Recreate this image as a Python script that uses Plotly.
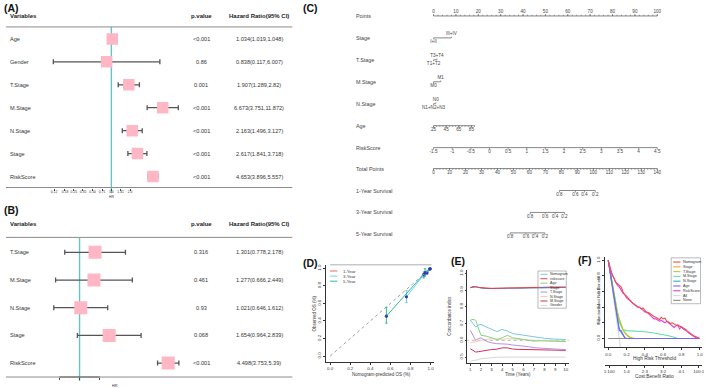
import math
import plotly.graph_objects as go

W, H = 709, 388
FONT = "Liberation Sans, Arial, sans-serif"
TXT = "#333333"
PINK = "#FFB7C5"
TEAL = "#67C3C9"
BARC = "#555555"

# ================= DATA =================
# Panel A : univariate Cox regression
a_vars = ["Age", "Gender", "T.Stage", "M.Stage", "N.Stage", "Stage", "RiskScore"]
a_pval = ["<0.001", "0.86", "0.001", "<0.001", "<0.001", "<0.001", "<0.001"]
a_hr = [1.034, 0.838, 1.907, 6.673, 2.163, 2.617, 4.653]
a_lo = [1.019, 0.117, 1.289, 3.751, 1.496, 1.841, 3.896]
a_hi = [1.048, 6.007, 2.82, 11.872, 3.127, 3.718, 5.557]
a_ticks = [0.12, 0.18, 0.25, 0.35, 0.50, 0.71, 1.0, 1.41, 2.0]
a_ticklabels = ["0.12", "0.18", "0.25", "0.35", "0.50", "0.71", "1.0", "1.41", "2.0"]

# Panel B : multivariate Cox regression
b_vars = ["T.Stage", "M.Stage", "N.Stage", "Stage", "RiskScore"]
b_pval = ["0.316", "0.461", "0.93", "0.068", "<0.001"]
b_hr = [1.301, 1.277, 1.021, 1.654, 4.498]
b_lo = [0.778, 0.666, 0.646, 0.964, 3.753]
b_hi = [2.178, 2.449, 1.612, 2.839, 5.39]
b_ticks = [0.71, 1.0, 1.41]
b_ticklabels = ["0.71", "1.0", "1.41"]

# Panel C : nomogram
c_row_names = ["Points", "Stage", "T.Stage", "M.Stage", "N.Stage", "Age", "RiskScore",
               "Total Points", "1-Year Survival", "3-Year Survival", "5-Year Survival"]
points_major = [0, 10, 20, 30, 40, 50, 60, 70, 80, 90, 100]
points_minor = list(range(0, 101, 2))
stage_levels, stage_pts = ["I+II", "III+IV"], [0, 8.0]
tstage_levels, tstage_pts = ["T1+T2", "T3+T4"], [0, 1.5]
mstage_levels, mstage_pts = ["M0", "M1"], [0, 3.2]
nstage_levels, nstage_pts = ["N1+N2+N3", "N0"], [0, 1.0]
age_major = [25, 45, 65, 85]
age_minor = [25, 30, 35, 40, 45, 50, 55, 60, 65, 70, 75, 80, 85, 90]
age_pts_per_year = 0.282
risk_ticks = [-1.5, -1, -0.5, 0, 0.5, 1, 1.5, 2, 2.5, 3, 3.5, 4, 4.5]
risk_labels = ["-1.5", "-1", "-0.5", "0", "0.5", "1", "1.5", "2", "2.5", "3", "3.5", "4", "4.5"]
total_major = [0, 10, 20, 30, 40, 50, 60, 70, 80, 90, 100, 110, 120, 130, 140]
total_minor = list(range(0, 141, 2))
total_max = 140
surv_labels = ["0.8", "0.6", "0.4", "0.2"]
surv1_total = [78.8, 88.8, 94.4, 101.2]
surv3_total = [60.5, 69.9, 76.1, 81.9]
surv5_total = [47.9, 57.9, 63.5, 69.7]

# Panel D : calibration
d_names = ["1-Year", "3-Year", "5-Year"]
d_colors = ["#F46A5E", "#72CFF2", "#2DBB9C"]
d_pred = [[0.93, 0.965, 0.995], [0.76, 0.935, 0.99], [0.56, 0.945, 0.995]]
d_obs = [[0.915, 0.95, 0.995], [0.675, 0.93, 0.99], [0.455, 0.95, 0.995]]
d_low = [[0.89, 0.93, 0.985], [0.61, 0.90, 0.975], [0.375, 0.91, 0.985]]
d_high = [[0.94, 0.97, 1.0], [0.745, 0.96, 1.0], [0.555, 0.995, 1.0]]
d_ideal = [0, 1]
d_ticks = [0, 0.2, 0.4, 0.6, 0.8, 1.0]

# Panel E : time-dependent C-index
e_years = [1, 1.25, 1.5, 1.75, 2, 2.5, 3, 3.5, 4, 4.5, 5, 5.5, 6, 6.5, 7, 7.5, 8, 9, 10]
e_names = ["Nomogram", "riskscore", "Age", "Stage", "T.Stage", "N.Stage", "M.Stage", "Gender"]
e_colors = ["#7CC6E6", "#E8403C", "#7FD77F", "#4A7FD6", "#B890DC", "#F7CBAE", "#D42E5B", "#D6D6D6"]
e_values = {
    "Nomogram": [0.72, 0.70, 0.68, 0.69, 0.695, 0.68, 0.665, 0.652, 0.665, 0.655, 0.64, 0.635, 0.632, 0.628, 0.62, 0.615, 0.612, 0.607, 0.605],
    "riskscore": [0.915, 0.917, 0.918, 0.916, 0.914, 0.912, 0.91, 0.911, 0.912, 0.913, 0.912, 0.912, 0.912, 0.913, 0.915, 0.916, 0.917, 0.918, 0.918],
    "Age": [0.72, 0.725, 0.72, 0.67, 0.63, 0.625, 0.615, 0.605, 0.615, 0.63, 0.615, 0.61, 0.605, 0.598, 0.595, 0.597, 0.597, 0.595, 0.592],
    "Stage": [0.914, 0.921, 0.921, 0.917, 0.912, 0.909, 0.908, 0.909, 0.91, 0.911, 0.91, 0.91, 0.911, 0.912, 0.913, 0.914, 0.915, 0.916, 0.916],
    "T.Stage": [0.66, 0.625, 0.60, 0.61, 0.615, 0.595, 0.585, 0.58, 0.58, 0.577, 0.572, 0.57, 0.568, 0.562, 0.556, 0.553, 0.55, 0.548, 0.545],
    "N.Stage": [0.585, 0.587, 0.59, 0.595, 0.60, 0.605, 0.61, 0.607, 0.605, 0.61, 0.608, 0.605, 0.60, 0.60, 0.60, 0.599, 0.598, 0.597, 0.595],
    "M.Stage": [0.55, 0.54, 0.53, 0.532, 0.535, 0.54, 0.545, 0.547, 0.555, 0.555, 0.548, 0.546, 0.545, 0.544, 0.542, 0.541, 0.54, 0.54, 0.54],
    "Gender": [0.475, 0.477, 0.48, 0.485, 0.49, 0.494, 0.497, 0.499, 0.5, 0.5, 0.5, 0.5, 0.5, 0.5, 0.5, 0.5, 0.5, 0.5, 0.5],
}
e_ref = 0.6
e_xticks = [1, 2, 3, 4, 5, 6, 7, 8, 9, 10]
e_yticks = [0.5, 0.6, 0.7, 0.8, 0.9, 1.0]

# Panel F : decision curve analysis
f_names = ["Nomogram", "Stage", "T.Stage", "M.Stage", "N.Stage", "Age", "RiskScore", "All", "None"]
f_colors = ["#F0504A", "#F5A623", "#A8D43A", "#62E0A6", "#2FA8D8", "#7468F0", "#E23FE0", "#DADADA", "#8A8A8A"]
f_t_long = [0.00, 0.02, 0.04, 0.06, 0.08, 0.10, 0.12, 0.14, 0.16, 0.18, 0.20, 0.22, 0.24, 0.26, 0.28, 0.30,
            0.32, 0.34, 0.36, 0.38, 0.40, 0.42, 0.44, 0.46, 0.48, 0.50, 0.52, 0.54, 0.56, 0.58, 0.60, 0.62,
            0.64, 0.66, 0.68, 0.70, 0.72, 0.74, 0.76, 0.78, 0.80, 0.82, 0.84, 0.86, 0.88, 0.90, 0.92, 0.94,
            0.96, 0.98, 1.00]
f_nomogram = [1.00, 0.90, 0.83, 0.78, 0.72, 0.70, 0.68, 0.66, 0.60, 0.56, 0.54, 0.51, 0.49, 0.46, 0.44, 0.42,
              0.41, 0.40, 0.38, 0.39, 0.36, 0.33, 0.33, 0.31, 0.29, 0.28, 0.27, 0.26, 0.24, 0.27, 0.25, 0.26,
              0.22, 0.21, 0.19, 0.20, 0.18, 0.17, 0.17, 0.16, 0.14, 0.13, 0.12, 0.10, 0.08, 0.06, 0.04, 0.03,
              0.02, 0.01, 0.00]
f_riskscore = [1.00, 0.88, 0.82, 0.77, 0.74, 0.68, 0.66, 0.62, 0.58, 0.56, 0.52, 0.50, 0.48, 0.46, 0.43, 0.41,
               0.40, 0.40, 0.38, 0.35, 0.34, 0.34, 0.32, 0.30, 0.27, 0.25, 0.25, 0.24, 0.22, 0.23, 0.21, 0.20,
               0.22, 0.20, 0.19, 0.17, 0.14, 0.16, 0.17, 0.12, 0.15, 0.12, 0.11, 0.09, 0.07, 0.05, 0.03, 0.02,
               0.01, 0.005, 0.00]
f_t_short = [0, 0.02, 0.04, 0.06, 0.08, 0.10, 0.12, 0.14, 0.16, 0.18, 0.20, 0.22, 0.24, 0.26, 0.28, 1.0]
f_stage = [1.0, 0.86, 0.72, 0.58, 0.45, 0.33, 0.24, 0.17, 0.11, 0.07, 0.04, 0.02, 0.005, 0.0, 0.0, 0.0]
f_tstage = [1.0, 0.86, 0.72, 0.58, 0.46, 0.34, 0.25, 0.18, 0.12, 0.08, 0.05, 0.03, 0.015, 0.005, 0.0, 0.0]
f_nstage = [1.0, 0.85, 0.70, 0.55, 0.39, 0.24, 0.13, 0.08, 0.04, 0.01, 0.0, 0.0, 0.0, 0.0, 0.0, 0.0]
f_age = [1.0, 0.85, 0.69, 0.52, 0.36, 0.19, 0.10, 0.10, 0.05, 0.01, 0.0, 0.0, 0.0, 0.0, 0.0, 0.0]
f_t_m = [0, 0.02, 0.04, 0.06, 0.08, 0.10, 0.12, 0.14, 0.16, 0.20, 0.30, 0.40, 0.50, 0.60, 0.66, 0.72, 0.76, 1.0]
f_mstage = [1.0, 0.86, 0.71, 0.56, 0.42, 0.30, 0.21, 0.15, 0.115, 0.10, 0.095, 0.085, 0.07, 0.05, 0.035, 0.015, 0.0, 0.0]
f_t_all = [0, 0.04, 0.08, 0.12, 0.16]
f_all = [1.0, 0.68, 0.35, 0.0, -0.35]
f_t_none = [0, 1]
f_none = [0, 0]
f_ticks = [0, 0.2, 0.4, 0.6, 0.8, 1.0]
f_cb_ticks = [0.01, 0.2, 0.4, 0.6, 0.8, 0.99]
f_cb_labels = ["1:100", "1:4", "2:3", "3:2", "4:1", "100:1"]


# ================= HELPERS =================
def X(p):
    return p / W


def Y(p):
    return 1 - p / H


def lin_range(d0, d1, va, pa, vb, pb):
    s = (vb - va) / (pb - pa)
    return [va + (d0 - pa) * s, va + (d1 - pa) * s]


fig = go.Figure()
annotations = []
shapes = []
layout_axes = {}


def ann(x, y, text, size, color=TXT, xanchor="center", yanchor="middle", angle=0,
        xref="paper", yref="paper", bold=False):
    if bold:
        text = "<b>%s</b>" % text
    annotations.append(dict(
        x=X(x) if xref == "paper" else x, y=Y(y) if yref == "paper" else y,
        xref=xref, yref=yref, text=text, showarrow=False, borderpad=0,
        font=dict(size=size, color=color, family=FONT),
        xanchor=xanchor, yanchor=yanchor, textangle=angle))


def hline(x0, x1, y, color="#8C8C8C", width=1.0):
    shapes.append(dict(type="line", xref="paper", yref="paper", x0=X(x0), x1=X(x1),
                       y0=Y(y), y1=Y(y), line=dict(color=color, width=width)))


def add(tr, xa, ya):
    tr.update(xaxis=xa, yaxis=ya, hoverinfo="skip", showlegend=False)
    fig.add_trace(tr)


# ================= FOREST PLOTS (A, B) =================
def forest(xa, ya, xkey, ykey, names, pvals, hr, lo, hi, ticks, ticklabels,
           hr1_px, px_per_ln, row0, row_step, head_y, top_line, bot_line, teal_bot,
           box_size, tick_font, label_y, hr_label_xy, dark_axis):
    ln10 = math.log(10)
    d0, d1 = 40, 190
    layout_axes[xkey] = dict(
        type="log", domain=[X(d0), X(d1)],
        range=[(d0 - hr1_px) / px_per_ln / ln10, (d1 - hr1_px) / px_per_ln / ln10],
        anchor="free", position=Y(bot_line), showgrid=False, zeroline=False, showline=False,
        tickvals=ticks, ticktext=["" for _ in ticks], ticks="outside", ticklen=2, tickwidth=0.6,
        tickcolor="#444", tickangle=0, tickfont=dict(size=tick_font, color=TXT, family=FONT))
    ytop = (top_line - row0) / row_step
    ybot = (teal_bot - row0) / row_step
    layout_axes[ykey] = dict(domain=[Y(teal_bot), Y(top_line)], range=[ybot, ytop], visible=False)
    rows = list(range(len(names)))
    # reference line at HR = 1
    add(go.Scatter(x=[1, 1], y=[ytop, ybot], mode="lines",
                   line=dict(color=TEAL, width=1.4)), xa, ya)
    if dark_axis:
        yb = (bot_line - row0) / row_step
        add(go.Scatter(x=[ticks[0], ticks[-1]], y=[yb, yb], mode="lines",
                       line=dict(color="#333", width=1.0)), xa, ya)
    add(go.Scatter(
        x=hr, y=rows, mode="markers",
        marker=dict(symbol="square", size=box_size, color=PINK, line=dict(width=0)),
        error_x=dict(type="data", symmetric=False,
                     array=[h - v for h, v in zip(hi, hr)],
                     arrayminus=[v - l for v, l in zip(hr, lo)],
                     color=BARC, thickness=1.3, width=2.5)), xa, ya)
    # tick labels
    yl = (label_y - row0) / row_step
    add(go.Scatter(x=ticks, y=[yl] * len(ticks), mode="text", text=ticklabels,
                   textposition="middle center", cliponaxis=False,
                   textfont=dict(size=tick_font, color=TXT, family=FONT)), xa, ya)
    hline(5, 293, top_line)
    hline(5, 293, bot_line)
    ann(8, head_y, "Variables", 6.0, color="#222", xanchor="left", bold=True)
    ann(201.5, head_y, "p.value", 6.0, color="#222", bold=True)
    ann(259.5, head_y, "Hazard Ratio(95% CI)", 6.0, color="#222", bold=True)
    for i, nm in enumerate(names):
        ann(8, i, nm, 5.6, xanchor="left", yref=ya)
        annotations[-1]["x"] = X(8)
        ann(201.5, i, pvals[i], 5.6, yref=ya)
        annotations[-1]["x"] = X(201.5)
        ann(259.5, i, "%s(%s,%s)" % (hr[i], lo[i], hi[i]), 5.6, yref=ya)
        annotations[-1]["x"] = X(259.5)
    ann(hr_label_xy[0], hr_label_xy[1], "HR", tick_font)


forest("x", "y", "xaxis", "yaxis", a_vars, a_pval, a_hr, a_lo, a_hi, a_ticks, a_ticklabels,
       111, 27.2, 38, 23, 15, 26, 187, 193, 11.5, 3.4, 192, (111, 196.5), False)
forest("x2", "y2", "xaxis2", "yaxis2", b_vars, b_pval, b_hr, b_lo, b_hi, b_ticks, b_ticklabels,
       79, 59.3, 252, 27.75, 224, 237, 377, 381, 13, 3.8, 382, (115, 385.5), True)
ann(11, 7, "(A)", 10.5, color="#111", bold=True)
ann(11, 210, "(B)", 10.5, color="#111", bold=True)

# ================= NOMOGRAM (C) =================
layout_axes["xaxis3"] = dict(domain=[X(300), 1], range=lin_range(300, 709, 0, 435, 100, 660), visible=False)
layout_axes["yaxis3"] = dict(domain=[Y(250), 1], range=[250, 0], visible=False)
NC = "#555555"
c_label_y = [15.5, 37, 59, 81, 103, 125, 147, 168.5, 190.5, 212, 233.5]
for nm, yy in zip(c_row_names, c_label_y):
    ann(356, yy, nm, 5.4, color="#444", xanchor="left")


def nomo_axis(y, major, labels, minor, side):
    d = -1 if side == "top" else 1
    allp = major + minor
    add(go.Scatter(x=[min(allp), max(allp)], y=[y, y], mode="lines",
                   line=dict(color=NC, width=0.7)), "x3", "y3")
    tx, ty = [], []
    for p in major:
        tx += [p, p, None]
        ty += [y, y + d * 2.0, None]
    for p in minor:
        tx += [p, p, None]
        ty += [y, y + d * 1.2, None]
    add(go.Scatter(x=tx, y=ty, mode="lines", line=dict(color=NC, width=0.6)), "x3", "y3")
    add(go.Scatter(x=major, y=[y + d * 4.3] * len(major), mode="text", text=labels,
                   textposition="middle center",
                   textfont=dict(size=4.6, color="#444", family=FONT)), "x3", "y3")


def nomo_factor(y, levels, pts):
    add(go.Scatter(x=[pts[0], pts[-1]], y=[y, y], mode="lines",
                   line=dict(color=NC, width=0.7)), "x3", "y3")
    tx, ty = [pts[0], pts[0], None, pts[-1], pts[-1], None], [y, y + 1.3, None, y, y - 1.3, None]
    add(go.Scatter(x=tx, y=ty, mode="lines", line=dict(color=NC, width=0.6)), "x3", "y3")
    add(go.Scatter(x=[pts[0], pts[-1]], y=[y + 4.0, y - 4.0], mode="text", text=levels,
                   textposition="middle center",
                   textfont=dict(size=4.6, color="#444", family=FONT)), "x3", "y3")


nomo_axis(15, points_major, [str(v) for v in points_major], points_minor, "top")
nomo_factor(37, stage_levels, stage_pts)
nomo_factor(59, tstage_levels, tstage_pts)
nomo_factor(81, mstage_levels, mstage_pts)
nomo_factor(103, nstage_levels, nstage_pts)
age_p = lambda a: (a - age_major[0]) * age_pts_per_year
nomo_axis(125, [age_p(a) for a in age_major], [str(a) for a in age_major],
          [age_p(a) for a in age_minor], "bottom")
risk_p = lambda r: (r - risk_ticks[0]) / (risk_ticks[-1] - risk_ticks[0]) * 100
nomo_axis(147, [risk_p(r) for r in risk_ticks], risk_labels, [], "bottom")
tot_p = lambda t: t * 100.0 / total_max
nomo_axis(168, [tot_p(t) for t in total_major], [str(t) for t in total_major],
          [tot_p(t) for t in total_minor], "bottom")
nomo_axis(190, [tot_p(t) for t in surv1_total], surv_labels, [], "bottom")
nomo_axis(212, [tot_p(t) for t in surv3_total], surv_labels, [], "bottom")
nomo_axis(232.5, [tot_p(t) for t in surv5_total], surv_labels, [], "bottom")
ann(311, 7.5, "(C)", 10.5, color="#111", bold=True)


# common axis style for D/E/F
def ax_style(**kw):
    base = dict(showgrid=False, zeroline=False, showline=True, linecolor="#333", linewidth=0.7,
                ticks="outside", ticklen=2, tickwidth=0.7, tickcolor="#333",
                tickfont=dict(size=4.4, color=TXT, family=FONT))
    base.update(kw)
    return base


# ================= CALIBRATION (D) =================
layout_axes["xaxis4"] = ax_style(domain=[X(326.7), X(435)], range=lin_range(326.7, 435, 0, 331, 1, 432),
                                 anchor="y4", tickvals=d_ticks, tickformat=".1f", tickangle=0)
yr = lin_range(265, 361.7, 1, 268, 0, 356)
layout_axes["yaxis4"] = ax_style(domain=[Y(361.7), Y(265)], range=[yr[1], yr[0]], anchor="x4",
                                 tickvals=d_ticks, tickformat=".1f", tickangle=-90)
add(go.Scatter(x=d_ideal, y=d_ideal, mode="lines",
               line=dict(color="#777", width=0.7, dash="dot")), "x4", "y4")
for i in range(3):
    add(go.Scatter(
        x=d_pred[i], y=d_obs[i], mode="lines+markers",
        line=dict(color=d_colors[i], width=1.0),
        marker=dict(color="#2A3BBF", size=3.2),
        error_y=dict(type="data", symmetric=False,
                     array=[h - o for h, o in zip(d_high[i], d_obs[i])],
                     arrayminus=[o - l for o, l in zip(d_obs[i], d_low[i])],
                     color=d_colors[i], thickness=1.0, width=1.2)), "x4", "y4")
hline(331, 433, 264.5, color="#9A9A9A", width=0.8)
for i, nm in enumerate(d_names):
    yy = 270.7 + 5.1 * i
    hline(330.7, 338.3, yy, color=d_colors[i], width=1.0)
    ann(343, yy, nm, 4.3, xanchor="left")
ann(383, 374, "Nomogram-predicted OS (%)", 4.5)
ann(315, 313, "Observed OS (%)", 4.5, angle=-90)
ann(311, 263, "(D)", 10.5, color="#111", bold=True)

# ================= C-INDEX (E) =================
layout_axes["xaxis5"] = ax_style(domain=[X(469), X(571)], range=lin_range(469, 571, 1, 472, 10, 568),
                                 anchor="y5", tickvals=e_xticks, tickangle=0)
yr = lin_range(270, 362.7, 1.0, 273, 0.5, 357)
layout_axes["yaxis5"] = ax_style(domain=[Y(362.7), Y(270)], range=[yr[1], yr[0]], anchor="x5",
                                 tickvals=e_yticks, tickformat=".1f", tickangle=-90)
add(go.Scatter(x=[e_xticks[0] - 1, e_xticks[-1] + 1], y=[e_ref, e_ref], mode="lines",
               line=dict(color="#999", width=0.7, dash="dot")), "x5", "y5")
draw_order = ["Gender", "M.Stage", "N.Stage", "T.Stage", "Age", "Nomogram", "Stage", "riskscore"]
for nm in draw_order:
    c = e_colors[e_names.index(nm)]
    add(go.Scatter(x=e_years, y=e_values[nm], mode="lines", line=dict(color=c, width=1.0)), "x5", "y5")
shapes.append(dict(type="rect", xref="paper", yref="paper", x0=X(540), x1=X(568.5), y0=Y(308),
                   y1=Y(270.7), line=dict(color="#777", width=0.5), fillcolor="rgba(0,0,0,0)"))
for i, nm in enumerate(e_names):
    yy = 274 + 4.46 * i
    hline(542.5, 549.5, yy, color=e_colors[i], width=1.0)
    ann(551, yy, nm, 3.6, xanchor="left")
ann(520, 374, "Time (Years)", 4.5)
ann(451, 315, "Concordance index", 4.5, angle=-90)
ann(460, 261, "(E)", 10.5, color="#111", bold=True)

# ================= DCA (F) =================
layout_axes["xaxis6"] = ax_style(domain=[X(607.3), X(705)], range=lin_range(607.3, 705, 0, 610.7, 1, 702.7),
                                 anchor="y6", tickvals=f_ticks, tickformat=".1f", tickangle=0)
yr = lin_range(257, 347.3, 1, 260, 0, 338.3)
layout_axes["yaxis6"] = ax_style(domain=[Y(347.3), Y(257)], range=[yr[1], yr[0]], anchor="x6",
                                 tickvals=f_ticks, tickformat=".1f", tickangle=-90)
layout_axes["xaxis7"] = ax_style(overlaying="x6", anchor="free", position=Y(365),
                                 range=lin_range(607.3, 705, 0, 610.7, 1, 702.7),
                                 tickvals=f_cb_ticks, ticktext=f_cb_labels, tickangle=0, side="bottom")
add(go.Scatter(x=[None], y=[None], mode="markers"), "x7", "y6")
f_series = [
    ("All", f_t_all, f_all), ("None", f_t_none, f_none),
    ("M.Stage", f_t_m, f_mstage), ("Stage", f_t_short, f_stage), ("T.Stage", f_t_short, f_tstage),
    ("N.Stage", f_t_short, f_nstage), ("Age", f_t_short, f_age),
    ("RiskScore", f_t_long, f_riskscore), ("Nomogram", f_t_long, f_nomogram),
]
for nm, xs, ys in f_series:
    c = f_colors[f_names.index(nm)]
    add(go.Scatter(x=xs, y=ys, mode="lines", line=dict(color=c, width=1.1)), "x6", "y6")
shapes.append(dict(type="rect", xref="paper", yref="paper", x0=X(674), x1=X(703.5), y0=Y(303.5),
                   y1=Y(257.5), line=dict(color="#777", width=0.5), fillcolor="white"))
for i, nm in enumerate(f_names):
    yy = 261.7 + 4.8 * i
    hline(676, 683.3, yy, color=f_colors[i], width=1.1)
    ann(685, yy, nm, 3.7, xanchor="left")
ann(657, 358.5, "High Risk Threshold", 4.8)
ann(657, 376, "Cost:Benefit Ratio", 4.8)
ann(600.5, 300, "Standardized Net Benefit", 4.3, angle=-90)
ann(587, 260, "(F)", 10.5, color="#111", bold=True)

fig.update_layout(
    width=W, height=H, margin=dict(l=0, r=0, t=0, b=0),
    paper_bgcolor="white", plot_bgcolor="rgba(0,0,0,0)",
    showlegend=False, annotations=annotations, shapes=shapes,
    font=dict(family=FONT, color=TXT),
    **layout_axes)

fig.write_html("out.html", config={"displayModeBar": False},
               post_script="document.body.style.margin='0px';document.body.style.overflow='hidden';")
